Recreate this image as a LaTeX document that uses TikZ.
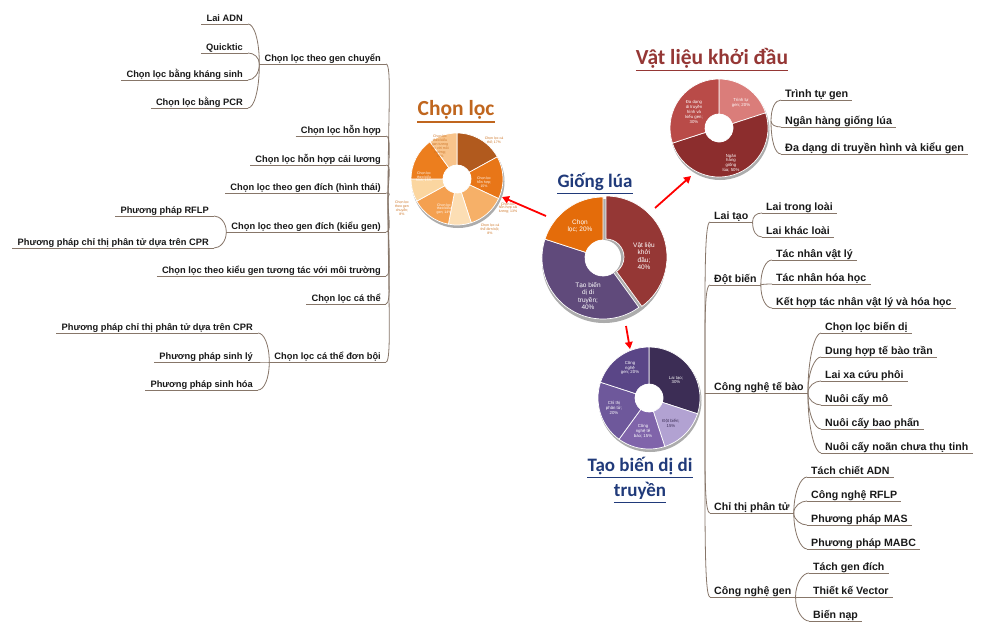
\documentclass[tikz,border=0pt]{standalone}
\usepackage{fontspec}
\setmainfont{Liberation Sans}
\newfontfamily\ttlfont{Carlito}
\usetikzlibrary{calc,arrows.meta}
\definecolor{linec}{RGB}{135,118,105}
\definecolor{txtc}{RGB}{25,25,25}
\definecolor{ttlorange}{RGB}{192,102,30}
\definecolor{ttlred}{RGB}{149,55,53}
\definecolor{ttlblue}{RGB}{32,58,122}
\definecolor{cla}{RGB}{177,90,30}
\definecolor{clb}{RGB}{232,118,24}
\definecolor{clc}{RGB}{246,176,104}
\definecolor{cld}{RGB}{252,222,180}
\definecolor{cle}{RGB}{244,160,80}
\definecolor{clf}{RGB}{251,214,160}
\definecolor{clg}{RGB}{236,126,30}
\definecolor{clh}{RGB}{248,196,140}
\definecolor{cltxt}{RGB}{205,115,35}
\definecolor{glred}{RGB}{149,55,53}
\definecolor{glpur}{RGB}{96,74,123}
\definecolor{glora}{RGB}{228,108,10}
\definecolor{vla}{RGB}{218,125,122}
\definecolor{vlb}{RGB}{140,45,45}
\definecolor{vlc}{RGB}{185,75,72}
\definecolor{tba}{RGB}{60,45,85}
\definecolor{tbb}{RGB}{178,162,210}
\definecolor{tbc}{RGB}{128,100,170}
\definecolor{tbd}{RGB}{110,88,155}
\definecolor{tbe}{RGB}{90,70,135}
\newcommand\dsg[6]{\fill[#6,draw=white,line width=0.7pt] ($(#1)+(#4:#2)$) arc[start angle=#4,end angle=#5,radius=#2] -- ($(#1)+(#5:#3)$) arc[start angle=#5,end angle=#4,radius=#3] -- cycle;}
\begin{document}
\begin{tikzpicture}[x=1pt,y=-1pt,
  lt/.style={anchor=south east,inner xsep=5pt,inner ysep=0.6pt,text depth=2pt,font=\bfseries\fontsize{9.3}{10}\selectfont,text=txtc},
  rt/.style={anchor=south west,inner xsep=4pt,inner ysep=0.6pt,text depth=2pt,font=\bfseries\fontsize{10.6}{11}\selectfont,text=txtc},
  vt/.style={rt,font=\bfseries\fontsize{10.8}{11}\selectfont},
  conn/.style={draw=linec,line width=0.8pt},
  brL/.style={to path={.. controls ($(\tikztostart)+(6,0)$) and ($(\tikztotarget)!0.6!(\tikztotarget |- \tikztostart)$) .. (\tikztotarget)}},
  brR/.style={to path={.. controls ($(\tikztostart)+(-6,0)$) and ($(\tikztotarget)!0.6!(\tikztotarget |- \tikztostart)$) .. (\tikztotarget)}},
  ttl/.style={font=\ttlfont\bfseries\fontsize{21.5}{22}\selectfont,inner sep=0pt},
  dlw/.style={align=center,inner sep=0pt,text=white,font=\fontsize{4.3}{4.8}\selectfont},
  dlo/.style={align=center,inner sep=0pt,text=cltxt,font=\fontsize{3.5}{3.9}\selectfont},
  dlc/.style={align=center,inner sep=0pt,text=white,font=\fontsize{3.5}{3.9}\selectfont},
  redarrow/.style={draw=red,line width=1.8pt,-{Triangle[length=7pt,width=7.5pt]}}
]
\useasboundingbox (0,0) rectangle (993,625);
\fill[white] (0,0) rectangle (993,625);

% ---------- Chon loc donut ----------
\fill[gray!65] (458,181.5) circle[radius=46.5];
\dsg{457,179}{14}{46}{-90}{-28.8}{cla}
\dsg{457,179}{14}{46}{-28.8}{25.2}{clb}
\dsg{457,179}{14}{46}{25.2}{72}{clc}
\dsg{457,179}{14}{46}{72}{100.8}{cld}
\dsg{457,179}{14}{46}{100.8}{151.2}{cle}
\dsg{457,179}{14}{46}{151.2}{180}{clf}
\dsg{457,179}{14}{46}{180}{234}{clg}
\dsg{457,179}{14}{46}{234}{270}{clh}
\fill[white] (457,179) circle[radius=14];
\node[dlo] (c1) at (494,140) {Chọn lọc cá\\thể; 17\%};
\node[dlc] (c2) at (484,182) {Chọn lọc\\hỗn hợp;\\15\%};
\node[dlo] (c3) at (508,208) {Chọn lọc\\hỗn hợp cải\\lương; 13\%};
\node[dlo] (c4) at (490,229) {Chọn lọc cá\\thể đơn bội;\\8\%};
\node[dlc] (c5) at (444,209) {Chọn lọc\\theo kiểu\\gen; 14\%};
\node[dlo] (c6) at (402,208) {Chọn lọc\\theo gen\\chuyển;\\8\%};
\node[dlc] (c7) at (424,177) {Chọn lọc\\theo kiểu\\hình; 15\%};
\node[dlo] (c8) at (440,146) {Chọn lọc\\theo kiểu\\gen tương\\tác với môi\\trường;\\10\%};
\node[ttl,text=ttlorange] (tCL) at (456,110) {Chọn lọc};
\draw[ttlorange,line width=1.4pt] ($(tCL.south west)+(0,2.5)$) -- ($(tCL.south east)+(0,2.5)$);

% ---------- Giong lua donut ----------
\fill[gray!65] (604,261) circle[radius=62];
\dsg{606,257}{18}{61}{-90}{54}{glred}
\dsg{603,258}{18}{61}{54}{198}{glpur}
\dsg{603,258}{18}{61}{198}{270}{glora}
\fill[white] (603,258) circle[radius=18];
\node[align=center,inner sep=0pt,text=white,font=\fontsize{6.5}{7.5}\selectfont] (g1) at (580,226) {Chọn\\lọc; 20\%};
\node[align=center,inner sep=0pt,text=white,font=\fontsize{6.5}{7.5}\selectfont] (g2) at (644,256) {Vật liệu\\khởi\\đầu;\\40\%};
\node[align=center,inner sep=0pt,text=white,font=\fontsize{6.5}{7.5}\selectfont] (g3) at (588,296) {Tạo biến\\dị di\\truyền;\\40\%};
\node[ttl,text=ttlblue,font=\ttlfont\bfseries\fontsize{19}{20}\selectfont] (tGL) at (595,182) {Giống lúa};
\draw[ttlblue,line width=1.3pt] ($(tGL.south west)+(0,2.5)$) -- ($(tGL.south east)+(0,2.5)$);

% ---------- Vat lieu donut ----------
\fill[gray!65] (720,130.5) circle[radius=49.5];
\dsg{719,128}{14}{49}{-90}{-18}{vla}
\dsg{719,128}{14}{49}{-18}{162}{vlb}
\dsg{719,128}{14}{49}{162}{270}{vlc}
\fill[white] (719,128) circle[radius=14];
\node[dlw] (v1) at (741,103) {Trình tự\\gen; 20\%};
\node[dlw] (v2) at (731,163) {Ngân\\hàng\\giống\\lúa; 50\%};
\node[dlw] (v3) at (694,112) {Đa dạng\\di truyền\\hình và\\kiểu gen;\\30\%};
\node[ttl,text=ttlred] (tVL) at (712,58) {Vật liệu khởi đầu};
\draw[ttlred,line width=1.4pt] ($(tVL.south west)+(0,2.5)$) -- ($(tVL.south east)+(0,2.5)$);

% ---------- Tao bien di donut ----------
\fill[gray!65] (650,400.5) circle[radius=51.5];
\dsg{649,398}{14}{51}{-90}{18}{tba}
\dsg{649,398}{14}{51}{18}{72}{tbb}
\dsg{649,398}{14}{51}{72}{126}{tbc}
\dsg{649,398}{14}{51}{126}{198}{tbd}
\dsg{649,398}{14}{51}{198}{270}{tbe}
\fill[white] (649,398) circle[radius=14];
\node[dlw] (b1) at (676,380) {Lai tạo;\\30\%};
\node[dlw,text=tba] (b2) at (671,423) {Đột biến;\\15\%};
\node[dlw] (b3) at (643,431) {Công\\nghệ tế\\bào; 15\%};
\node[dlw] (b4) at (614,408) {Chỉ thị\\phân tử;\\20\%};
\node[dlw] (b5) at (630,368) {Công\\nghệ\\gen; 20\%};
\node[ttl,text=ttlblue,font=\ttlfont\bfseries\fontsize{19}{20}\selectfont,align=center] (tTB1) at (640,466) {Tạo biến dị di};
\node[ttl,text=ttlblue,font=\ttlfont\bfseries\fontsize{19}{20}\selectfont] (tTB2) at (640,491) {truyền};
\draw[ttlblue,line width=1.3pt] ($(tTB1.south west)+(0,2.5)$) -- ($(tTB1.south east)+(0,2.5)$);
\draw[ttlblue,line width=1.3pt] ($(tTB2.south west)+(0,2.5)$) -- ($(tTB2.south east)+(0,2.5)$);

% ---------- red arrows ----------
\coordinate (a1s) at (546,216); \coordinate (a1e) at (502,197);
\coordinate (a2s) at (655,208); \coordinate (a2e) at (691,176);
\coordinate (a3s) at (626,326); \coordinate (a3e) at (630,349);
\draw[redarrow] (a1s) -- (a1e);
\draw[redarrow] (a2s) -- (a2e);
\draw[redarrow] (a3s) -- (a3e);

% ---------- left tree ----------
\coordinate (Lroot) at (388,198);
\node[lt] (L1) at (386,64) {Chọn lọc theo gen chuyển};
\node[lt] (L2) at (386,136) {Chọn lọc hỗn hợp};
\node[lt] (L3) at (386,165) {Chọn lọc hỗn hợp cải lương};
\node[lt] (L4) at (386,193) {Chọn lọc theo gen đích (hình thái)};
\node[lt] (L5) at (386,232) {Chọn lọc theo gen đích (kiểu gen)};
\node[lt] (L6) at (386,276) {Chọn lọc theo kiểu gen tương tác với môi trường};
\node[lt] (L7) at (386,304) {Chọn lọc cá thể};
\node[lt] (L8) at (386,362) {Chọn lọc cá thể đơn bội};
\node[lt] (L1a) at (248,24) {Lai ADN};
\node[lt] (L1b) at (248,53) {Quicktic};
\node[lt] (L1c) at (248,80) {Chọn lọc bằng kháng sinh};
\node[lt] (L1d) at (248,108) {Chọn lọc bằng PCR};
\node[lt] (L5a) at (214,216) {Phương pháp RFLP};
\node[lt] (L5b) at (214,248) {Phương pháp chỉ thị phân tử dựa trên CPR};
\node[lt] (L8a) at (258,333) {Phương pháp chỉ thị phân tử dựa trên CPR};
\node[lt] (L8b) at (258,362) {Phương pháp sinh lý};
\node[lt] (L8c) at (258,390) {Phương pháp sinh hóa};
\foreach \n in {L1,L2,L3,L4,L5,L6,L7,L8,L1a,L1b,L1c,L1d,L5a,L5b,L8a,L8b,L8c}
  \draw[conn] (\n.south west) -- (\n.south east);
\foreach \n in {L1,L2,L3,L4,L5,L6,L7,L8}
  \draw[conn] (\n.south east) to[brL] (Lroot);
\foreach \n in {L1a,L1b,L1c,L1d}
  \draw[conn] (\n.south east) to[brL] (L1.south west);
\foreach \n in {L5a,L5b}
  \draw[conn] (\n.south east) to[brL] (L5.south west);
\foreach \n in {L8a,L8b,L8c}
  \draw[conn] (\n.south east) to[brL] (L8.south west);

% ---------- Vat lieu list ----------
\coordinate (Vroot) at (771,121);
\node[vt] (V1) at (781,100) {Trình tự gen};
\node[vt] (V2) at (781,127) {Ngân hàng giống lúa};
\node[vt] (V3) at (781,154) {Đa dạng di truyền hình và kiểu gen};
\foreach \n in {V1,V2,V3} {
  \draw[conn] (\n.south west) -- (\n.south east);
  \draw[conn] (\n.south west) to[brR] (Vroot);
}

% ---------- right tree ----------
\coordinate (Rroot) at (705,393);
\node[rt] (R1) at (710,222) {Lai tạo};
\node[rt] (R2) at (710,285) {Đột biến};
\node[rt] (R3) at (710,393) {Công nghệ tế bào};
\node[rt] (R4) at (710,513) {Chỉ thị phân tử};
\node[rt] (R5) at (710,597) {Công nghệ gen};
\node[rt] (R1a) at (762,213) {Lai trong loài};
\node[rt] (R1b) at (762,237) {Lai khác loài};
\node[rt] (R2a) at (772,260) {Tác nhân vật lý};
\node[rt] (R2b) at (772,284) {Tác nhân hóa học};
\node[rt] (R2c) at (772,308) {Kết hợp tác nhân vật lý và hóa học};
\node[rt] (R3a) at (821,333) {Chọn lọc biến dị};
\node[rt] (R3b) at (821,357) {Dung hợp tế bào trần};
\node[rt] (R3c) at (821,381) {Lai xa cứu phôi};
\node[rt] (R3d) at (821,405) {Nuôi cấy mô};
\node[rt] (R3e) at (821,429) {Nuôi cấy bao phấn};
\node[rt] (R3f) at (821,453) {Nuôi cấy noãn chưa thụ tinh};
\node[rt] (R4a) at (807,477) {Tách chiết ADN};
\node[rt] (R4b) at (807,501) {Công nghệ RFLP};
\node[rt] (R4c) at (807,525) {Phương pháp MAS};
\node[rt] (R4d) at (807,549) {Phương pháp MABC};
\node[rt] (R5a) at (809,573) {Tách gen đích};
\node[rt] (R5b) at (809,597) {Thiết kế Vector};
\node[rt] (R5c) at (809,621) {Biến nạp};
\foreach \n in {R1,R2,R3,R4,R5,R1a,R1b,R2a,R2b,R2c,R3a,R3b,R3c,R3d,R3e,R3f,R4a,R4b,R4c,R4d,R5a,R5b,R5c}
  \draw[conn] (\n.south west) -- (\n.south east);
\foreach \n in {R1,R2,R3,R4,R5}
  \draw[conn] (\n.south west) to[brR] (Rroot);
\foreach \n in {R1a,R1b}
  \draw[conn] (\n.south west) to[brR] (R1.south east);
\foreach \n in {R2a,R2b,R2c}
  \draw[conn] (\n.south west) to[brR] (R2.south east);
\foreach \n in {R3a,R3b,R3c,R3d,R3e,R3f}
  \draw[conn] (\n.south west) to[brR] (R3.south east);
\foreach \n in {R4a,R4b,R4c,R4d}
  \draw[conn] (\n.south west) to[brR] (R4.south east);
\foreach \n in {R5a,R5b,R5c}
  \draw[conn] (\n.south west) to[brR] (R5.south east);
\end{tikzpicture}
\end{document}
